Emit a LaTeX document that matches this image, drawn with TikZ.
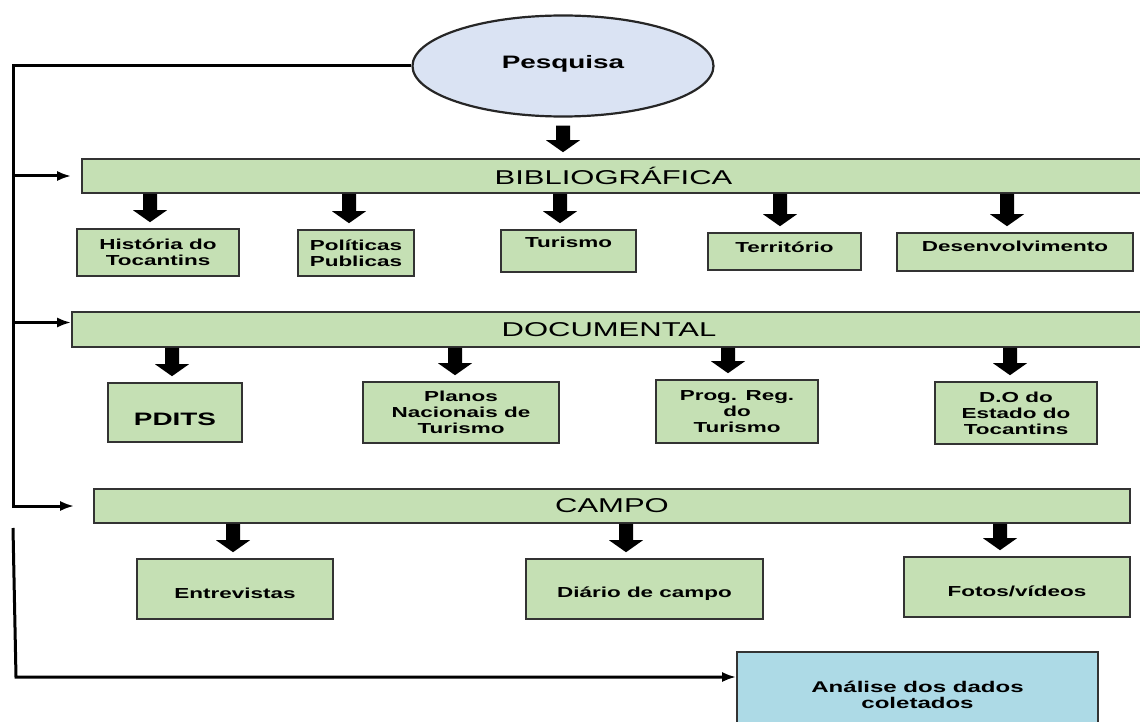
\documentclass[tikz,border=0pt]{standalone}
\usepackage{fontspec}
\setmainfont{Liberation Sans}[FakeStretch=1.55]
\usetikzlibrary{shapes.geometric,arrows.meta,calc}

\definecolor{boxgreen}{HTML}{C5E0B4}
\definecolor{ovalblue}{HTML}{DAE3F3}
\definecolor{resultblue}{HTML}{ADDAE6}
\definecolor{edgegray}{HTML}{333333}

\tikzset{
  greenbox/.style={draw=edgegray,line width=1.6pt,fill=boxgreen,inner sep=0pt,align=center,font=\bfseries\fontsize{14.5}{16}\selectfont},
  titlebar/.style={draw=edgegray,line width=1.6pt,fill=boxgreen,inner sep=0pt,minimum height=34pt,font=\fontsize{20}{24}\selectfont},
  linkline/.style={line width=3pt,black},
  linkarrow/.style={linkline,-{Latex[length=14pt,width=10pt]}}
}

\newcommand{\blockarr}[2]{%
  \fill let \p1=#1, \p2=#2 in
    (\x1-7pt,\y1) -- (\x1-7pt,\y2+18pt) -- (\x1-17pt,\y2+18pt) -- (\x1,\y2+6pt)
    -- (\x1+17pt,\y2+18pt) -- (\x1+7pt,\y2+18pt) -- (\x1+7pt,\y1) -- cycle;}

\begin{document}
\begin{tikzpicture}[x=1pt,y=-1pt]
\useasboundingbox (0,0) rectangle (1140,722);
\clip (0,0) rectangle (1140,722);

\node[ellipse,draw=black!85,line width=2.2pt,fill=ovalblue,minimum width=301pt,minimum height=101pt,inner sep=0pt,text depth=8pt,font=\bfseries\fontsize{18}{20}\selectfont] (pesq) at (563,66) {Pesquisa};

\node[titlebar,minimum width=1063pt] (biblio) at (613.5,176) {BIBLIOGRÁFICA};
\node[titlebar,minimum width=1074pt,minimum height=35pt] (docum) at (609,329.5) {DOCUMENTAL};
\node[titlebar,minimum width=1036pt] (campo) at (612,506) {CAMPO};

\node[greenbox,minimum width=162pt,minimum height=47pt] (hist) at (158,252.5) {História do\\Tocantins};
\node[greenbox,minimum width=116pt,minimum height=46pt] (polit) at (356,253) {Políticas\\Publicas};
\node[greenbox,minimum width=135pt,minimum height=42pt,text depth=18pt] (turis) at (568.5,251) {Turismo};
\node[greenbox,minimum width=153pt,minimum height=37pt,text depth=9pt] (territ) at (784.5,251.5) {Território};
\node[greenbox,minimum width=236pt,minimum height=38pt,text depth=12pt] (desenv) at (1015,252) {Desenvolvimento};

\node[greenbox,minimum width=134pt,minimum height=59pt,text height=27pt,font=\bfseries\fontsize{18}{20}\selectfont] (pdits) at (175,412.5) {PDITS};
\node[greenbox,minimum width=196pt,minimum height=61pt] (planos) at (461,412.5) {Planos\\Nacionais de\\Turismo};
\node[greenbox,minimum width=162pt,minimum height=63pt] (progreg) at (737,411.5) {Prog. Reg.\\do\\Turismo};
\node[greenbox,minimum width=162pt,minimum height=62pt] (dooe) at (1016,413) {D.O do\\Estado do\\Tocantins};

\node[greenbox,minimum width=196pt,minimum height=60pt,text height=20pt] (entrev) at (235,589) {Entrevistas};
\node[greenbox,minimum width=237pt,minimum height=60pt,text height=20pt] (diario) at (644.5,589) {Diário de campo};
\node[greenbox,minimum width=226pt,minimum height=60pt,text height=20pt] (fotos) at (1017,587) {Fotos/vídeos};

\node[greenbox,fill=resultblue,minimum width=361pt,minimum height=86pt,font=\bfseries\fontsize{15.5}{16}\selectfont] (analise) at (917.5,695) {Análise dos dados\\coletados};

\blockarr{([yshift=-8pt]pesq.south)}{(biblio.north)}
\blockarr{(150,0 |- biblio.south)}{(150,0 |- hist.north)}
\blockarr{(349,0 |- biblio.south)}{(349,0 |- polit.north)}
\blockarr{(560,0 |- biblio.south)}{(560,0 |- turis.north)}
\blockarr{(780,0 |- biblio.south)}{(780,0 |- territ.north)}
\blockarr{(1007,0 |- biblio.south)}{(1007,0 |- desenv.north)}
\blockarr{(172,0 |- docum.south)}{(172,0 |- pdits.north)}
\blockarr{(455,0 |- docum.south)}{(455,0 |- planos.north)}
\blockarr{(728,0 |- docum.south)}{(728,0 |- progreg.north)}
\blockarr{(1010,0 |- docum.south)}{(1010,0 |- dooe.north)}
\blockarr{(233,0 |- campo.south)}{(233,0 |- entrev.north)}
\blockarr{(626,0 |- campo.south)}{(626,0 |- diario.north)}
\blockarr{(1000,0 |- campo.south)}{(1000,0 |- fotos.north)}

\coordinate (spine) at (13,66);
\coordinate (lowstart) at (13,528);
\coordinate (lowcorner) at (16,677);
\draw[linkarrow] (pesq.west) -- (spine) -- (spine |- campo.west) -- ([xshift=-19pt]campo.west);
\draw[linkarrow] (spine |- biblio.west) -- ([xshift=-10pt]biblio.west);
\draw[linkarrow] ([yshift=7pt]spine |- docum.west) -- ([yshift=7pt]docum.west);
\draw[linkarrow] (lowstart) -- (lowcorner) -- ([yshift=18pt]analise.west);
\end{tikzpicture}
\end{document}
